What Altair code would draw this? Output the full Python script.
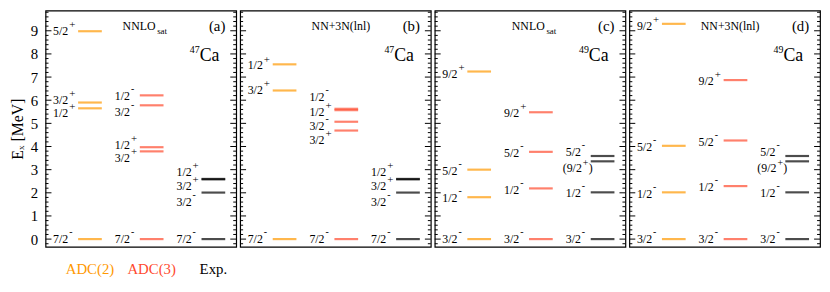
import altair as alt
import pandas as pd

SERIF = "Liberation Serif, Times New Roman, Times, serif"
ORANGE = "#ff9900"
RED = "#ff4a2e"
BLACK = "#000000"

# ---- data: level energies (MeV), spin-parity, label heights (MeV) ----
# (a) 47Ca, NNLOsat
A_ADC2_E = [0.00, 5.65, 5.90, 8.98]
A_ADC2_J = ["7/2-", "1/2+", "3/2+", "5/2+"]
A_ADC2_L = [0.00, 5.45, 6.02, 8.98]
A_ADC3_E = [0.00, 3.79, 3.97, 5.78, 6.21]
A_ADC3_J = ["7/2-", "3/2+", "1/2+", "3/2-", "1/2-"]
A_ADC3_L = [0.00, 3.52, 4.06, 5.51, 6.20]
# (b) 47Ca, NN+3N(lnl)
B_ADC2_E = [0.00, 6.42, 7.55]
B_ADC2_J = ["7/2-", "3/2+", "1/2+"]
B_ADC2_L = [0.00, 6.43, 7.50]
B_ADC3_E = [0.00, 4.69, 5.07, 5.57, 5.63]
B_ADC3_J = ["7/2-", "3/2+", "3/2-", "1/2+", "1/2-"]
B_ADC3_L = [0.00, 4.30, 4.87, 5.48, 6.12]
# experiment 47Ca
EXP47_E = [0.00, 2.01, 2.58, 2.60]
EXP47_J = ["7/2-", "3/2-", "3/2+", "1/2+"]
EXP47_L = [0.00, 1.59, 2.31, 2.90]
# (c) 49Ca, NNLOsat
C_ADC2_E = [0.00, 1.81, 3.00, 7.24]
C_ADC2_J = ["3/2-", "1/2-", "5/2-", "9/2+"]
C_ADC2_L = [0.00, 1.77, 2.95, 7.15]
C_ADC3_E = [0.00, 2.19, 3.77, 5.48]
C_ADC3_J = ["3/2-", "1/2-", "5/2-", "9/2+"]
C_ADC3_L = [0.00, 2.12, 3.73, 5.44]
# (d) 49Ca, NN+3N(lnl)
D_ADC2_E = [0.00, 2.02, 4.03, 9.30]
D_ADC2_J = ["3/2-", "1/2-", "5/2-", "9/2+"]
D_ADC2_L = [0.00, 1.95, 3.99, 9.21]
D_ADC3_E = [0.00, 2.29, 4.26, 6.87]
D_ADC3_J = ["3/2-", "1/2-", "5/2-", "9/2+"]
D_ADC3_L = [0.00, 2.26, 4.20, 6.82]
# experiment 49Ca
EXP49_E = [0.00, 2.02, 3.36, 3.59]
EXP49_J = ["3/2-", "1/2-", "(9/2+)", "5/2-"]
EXP49_L = [0.00, 1.98, 3.05, 3.76]

TITLE_MAIN = ["NNLO", "NN+3N(lnl)", "NNLO", "NN+3N(lnl)"]
TITLE_SUB = ["sat", "", "sat", ""]
TAGS = ["(a)", "(b)", "(c)", "(d)"]
MASS = ["47", "47", "49", "49"]
LEGEND = ["ADC(2)", "ADC(3)", "Exp."]
COLORS = [ORANGE, RED, BLACK]
Y_TICKS = list(range(0, 10))
MINOR_TICKS = [round(i * 0.2, 1) for i in range(-1, 50) if i % 5 != 0]

PANELS = [
    [(A_ADC2_E, A_ADC2_J, A_ADC2_L), (A_ADC3_E, A_ADC3_J, A_ADC3_L), (EXP47_E, EXP47_J, EXP47_L)],
    [(B_ADC2_E, B_ADC2_J, B_ADC2_L), (B_ADC3_E, B_ADC3_J, B_ADC3_L), (EXP47_E, EXP47_J, EXP47_L)],
    [(C_ADC2_E, C_ADC2_J, C_ADC2_L), (C_ADC3_E, C_ADC3_J, C_ADC3_L), (EXP49_E, EXP49_J, EXP49_L)],
    [(D_ADC2_E, D_ADC2_J, D_ADC2_L), (D_ADC3_E, D_ADC3_J, D_ADC3_L), (EXP49_E, EXP49_J, EXP49_L)],
]

W, H = 193, 239
YDOM = [-0.33, 9.87]
XDOM = [-0.72, 2.37]


def parse(j):
    if j.startswith("("):
        return j[:-2], j[-2], ")"
    return j[:-1], j[-1], ""


def levels_df(cols):
    rows = []
    for c, (E, J, L) in enumerate(cols):
        for e, j, l in zip(E, J, L):
            b, s, t = parse(j)
            rows.append(dict(col=c, E=e, L=l, base=b, sign=s, tail=t, color=COLORS[c]))
    return pd.DataFrame(rows)


def panel(i):
    first = i == 0
    if first:
        axis = alt.Axis(values=Y_TICKS, ticks=False, domain=False, grid=False,
                        labelFont=SERIF, labelFontSize=15, labelColor="black",
                        labelPadding=8, title="Eₓ [MeV]", titleFont=SERIF,
                        titleFontSize=16, titleFontWeight="normal", titleColor="black",
                        titlePadding=5)
    else:
        axis = None
    ysc = alt.Scale(domain=YDOM, nice=False, zero=False)
    xsc = alt.Scale(domain=XDOM, nice=False, zero=False)
    X = alt.X("col:Q", scale=xsc, axis=None)

    def Y(f):
        return alt.Y(f + ":Q", scale=ysc, axis=axis)

    df = levels_df(PANELS[i])
    base = alt.Chart(df)

    layers = []
    # axis ticks inside the frame, both sides
    maj = alt.Chart(pd.DataFrame({"E": Y_TICKS}))
    mnr = alt.Chart(pd.DataFrame({"E": MINOR_TICKS}))
    for src, ln in ((maj, 6), (mnr, 3)):
        layers.append(src.mark_rule(color="black", strokeWidth=1).encode(
            y=Y("E"), x=alt.value(0), x2=alt.value(ln)))
        layers.append(src.mark_rule(color="black", strokeWidth=1).encode(
            y=Y("E"), x=alt.value(W - ln), x2=alt.value(W)))

    layers.append(base.mark_tick(orient="horizontal", size=24, thickness=2.2).encode(
        x=X, y=Y("E"), color=alt.Color("color:N", scale=None)))

    txt = dict(font=SERIF, color="black")
    layers.append(base.transform_filter("datum.tail == ''").mark_text(
        align="right", baseline="middle", dx=-22, fontSize=12, **txt).encode(
        x=X, y=Y("L"), text="base:N"))
    layers.append(base.transform_filter("datum.tail != ''").mark_text(
        align="right", baseline="middle", dx=-21, fontSize=12, **txt).encode(
        x=X, y=Y("L"), text="base:N"))
    layers.append(base.transform_filter("datum.tail != ''").mark_text(
        align="left", baseline="middle", dx=-14, fontSize=12, **txt).encode(
        x=X, y=Y("L"), text="tail:N"))
    layers.append(base.transform_filter("datum.tail == '' && datum.sign == '+'").mark_text(
        align="left", baseline="middle", dx=-21, dy=-6, fontSize=11, **txt).encode(
        x=X, y=Y("L"), text="sign:N"))
    layers.append(base.transform_filter("datum.tail == '' && datum.sign == '-'").mark_text(
        align="left", baseline="middle", dx=-21, dy=-7, fontSize=10, **txt).encode(
        x=X, y=Y("L"), text="sign:N"))
    layers.append(base.transform_filter("datum.tail != ''").mark_text(
        align="left", baseline="middle", dx=-20, dy=-6, fontSize=10, **txt).encode(
        x=X, y=Y("L"), text="sign:N"))

    # annotations
    one = lambda t: alt.Chart(pd.DataFrame({"t": [t]}))
    if TITLE_SUB[i]:
        layers.append(one(TITLE_MAIN[i]).mark_text(align="left", baseline="middle", fontSize=12, **txt)
                      .encode(text="t:N", x=alt.value(78), y=alt.value(16)))
        layers.append(one(TITLE_SUB[i]).mark_text(align="left", baseline="middle", fontSize=9, **txt)
                      .encode(text="t:N", x=alt.value(113), y=alt.value(21)))
    else:
        layers.append(one(TITLE_MAIN[i]).mark_text(align="center", baseline="middle", fontSize=12, **txt)
                      .encode(text="t:N", x=alt.value(102), y=alt.value(16)))
    layers.append(one(TAGS[i]).mark_text(align="right", baseline="middle", fontSize=15, **txt)
                  .encode(text="t:N", x=alt.value(182), y=alt.value(16)))
    layers.append(one(MASS[i]).mark_text(align="right", baseline="middle", fontSize=10, **txt)
                  .encode(text="t:N", x=alt.value(156), y=alt.value(40)))
    layers.append(one("Ca").mark_text(align="left", baseline="middle", fontSize=18, **txt)
                  .encode(text="t:N", x=alt.value(156), y=alt.value(46)))

    if first:
        leg = pd.DataFrame({"col": [0, 1, 2], "name": LEGEND, "color": COLORS})
        layers.append(alt.Chart(leg).mark_text(font=SERIF, fontSize=15, baseline="middle").encode(
            x=X, y=alt.value(262), text="name:N", color=alt.Color("color:N", scale=None)))

    return alt.layer(*layers).properties(width=W, height=H)


chart = alt.hconcat(*[panel(i) for i in range(4)], spacing=0).properties(
    padding=0
).configure_view(stroke="black", strokeWidth=1.2)

chart.save("out.html", embed_options={"renderer": "svg", "actions": False})
